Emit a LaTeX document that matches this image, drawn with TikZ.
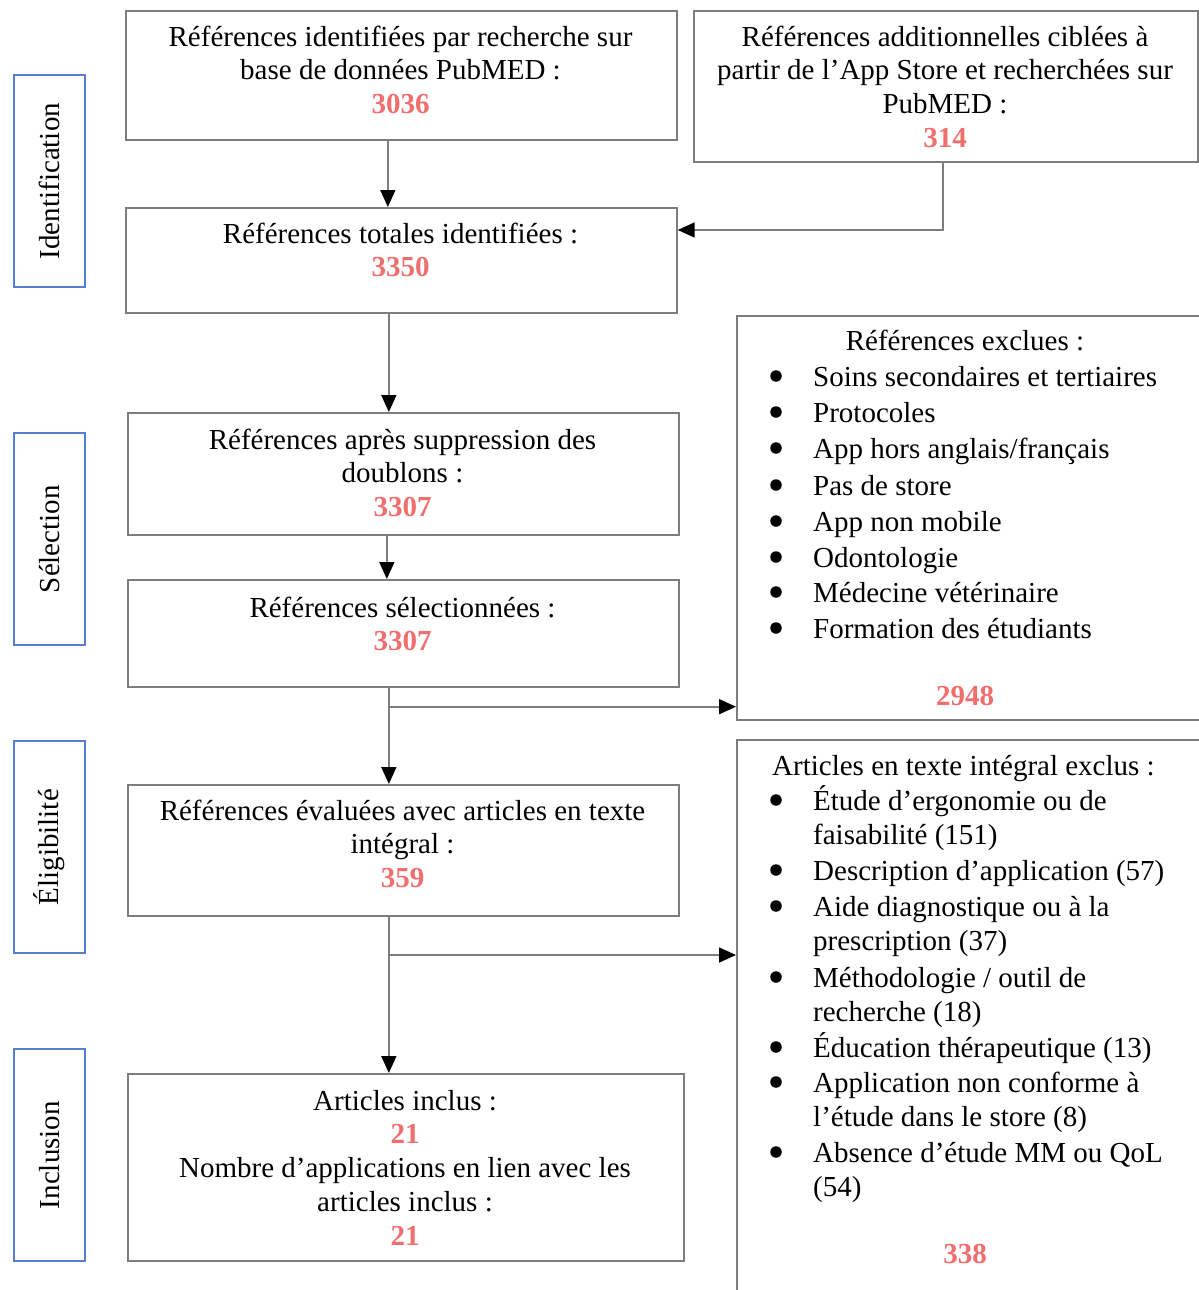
\documentclass[tikz,border=0pt]{standalone}
\usepackage{fontspec}
\setmainfont{Liberation Serif}
\usetikzlibrary{arrows.meta}
\definecolor{boxgray}{RGB}{125,125,125}
\definecolor{sideblue}{RGB}{85,125,210}
\definecolor{numred}{RGB}{240,110,110}
\newcommand\fs{\fontsize{29}{33.7}\selectfont}
\newcommand\st{\rule{0pt}{27pt}}
\newcommand\nb[1]{\textcolor{numred}{\bfseries #1}}
\begin{document}
\begin{tikzpicture}[x=1pt,y=-1pt,
  gbox/.style={draw=boxgray, line width=1.7pt, rectangle, inner sep=0pt, anchor=north west},
  sbox/.style={draw=sideblue, line width=2.2pt, rectangle, inner sep=0pt, anchor=north west, minimum width=71pt, minimum height=212pt},
  side/.style={font=\fs, rotate=90, inner sep=0pt},
  ctext/.style={font=\fs, align=center, anchor=north, inner sep=0pt},
  ltext/.style={font=\fs, anchor=base west, inner sep=0pt},
  btext/.style={font=\fs, anchor=base, inner sep=0pt},
  bul/.style={circle, fill=black, inner sep=0pt, minimum size=11.5pt},
  arr/.style={draw=boxgray, line width=1.7pt, -{Triangle[length=17pt,width=15pt,color=black]}},
  ln/.style={draw=boxgray, line width=1.7pt}
]
\useasboundingbox[fill=white] (0,0) rectangle (1199,1290);

% side labels
\node[sbox] (S1) at (13,74) {};
\node[side] (S1t) at (S1.center) {Identification};
\node[sbox] (S2) at (13,432) {};
\node[side] (S2t) at (S2.center) {Sélection};
\node[sbox] (S3) at (13,740) {};
\node[side] (S3t) at (S3.center) {Éligibilité};
\node[sbox] (S4) at (13,1048) {};
\node[side] (S4t) at (S4.center) {Inclusion};

% boxes
\node[gbox, minimum width=551pt, minimum height=129pt] (A) at (125,10) {};
\node[ctext] (At) at (400.5,19) {\st Références identifiées par recherche sur\\base de données PubMED :\\\nb{3036}};

\node[gbox, minimum width=504pt, minimum height=151pt] (B) at (693,10) {};
\node[ctext] (Bt) at (945,19) {\st Références additionnelles ciblées à\\partir de l’App Store et recherchées sur\\PubMED :\\\nb{314}};

\node[gbox, minimum width=551pt, minimum height=105pt] (C) at (125,207) {};
\node[ctext] (Ct) at (400.5,216) {\st Références totales identifiées :\\\nb{3350}};

\node[gbox, minimum width=551pt, minimum height=122pt] (D) at (127,412) {};
\node[ctext] (Dt) at (402.5,422) {\st Références après suppression des\\doublons :\\\nb{3307}};

\node[gbox, minimum width=551pt, minimum height=107pt] (E) at (127,579) {};
\node[ctext] (Et) at (402.5,590) {\st Références sélectionnées :\\\nb{3307}};

\node[gbox, minimum width=551pt, minimum height=131pt] (G) at (127,784) {};
\node[ctext] (Gt) at (402.5,793) {\st Références évaluées avec articles en texte\\intégral :\\\nb{359}};

\node[gbox, minimum width=556pt, minimum height=187pt] (I) at (127,1073) {};
\node[ctext] (It) at (405,1083) {\st Articles inclus :\\\nb{21}\\Nombre d’applications en lien avec les\\articles inclus :\\\nb{21}};

% exclusion box 1
\node[gbox, minimum width=466pt, minimum height=404pt] (F) at (736,315) {};
\node[btext] (Ft) at (965,350) {Références exclues :};
\foreach \y/\t [count=\i] in {386/{Soins secondaires et tertiaires}, 422/{Protocoles}, 458/{App hors anglais/français}, 495/{Pas de store}, 531/{App non mobile}, 567/{Odontologie}, 602/{Médecine vétérinaire}, 638/{Formation des étudiants}}{
  \node[bul] (Fb\i) at (776,\y-10) {};
  \node[ltext] (Fl\i) at (813,\y) {\t};
}
\node[btext] (Fn) at (965,705) {\nb{2948}};

% exclusion box 2
\node[gbox, minimum width=466pt, minimum height=570pt] (H) at (736,739) {};
\node[ltext] (Ht) at (772,775) {Articles en texte intégral exclus :};
\foreach \y [count=\i] in {810,880,916,987,1057,1092,1162}{
  \node[bul] (Hb\i) at (776,\y-10) {};
}
\node[ltext] (H1) at (813,810) {Étude d’ergonomie ou de};
\node[ltext] (H2) at (813,844) {faisabilité (151)};
\node[ltext] (H3) at (813,880) {Description d’application (57)};
\node[ltext] (H4) at (813,916) {Aide diagnostique ou à la};
\node[ltext] (H5) at (813,950) {prescription (37)};
\node[ltext] (H6) at (813,987) {Méthodologie / outil de};
\node[ltext] (H7) at (813,1021) {recherche (18)};
\node[ltext] (H8) at (813,1057) {Éducation thérapeutique (13)};
\node[ltext] (H9) at (813,1092) {Application non conforme à};
\node[ltext] (H10) at (813,1126) {l’étude dans le store (8)};
\node[ltext] (H11) at (813,1162) {Absence d’étude MM ou QoL};
\node[ltext] (H12) at (813,1196) {(54)};
\node[btext] (Hn) at (965,1263) {\nb{338}};

% connectors
\draw[arr] ([xshift=-13.5pt]A.south) -- ([xshift=-13.5pt]A.south |- C.north);
\draw[arr] ([xshift=-3pt]B.south) |- ([yshift=-23pt]C.north east);
\draw[arr] ([xshift=-12.5pt]C.south) -- ([xshift=-12.5pt]C.south |- D.north);
\draw[arr] ([xshift=-16.5pt]D.south) -- ([xshift=-16.5pt]D.south |- E.north);
\coordinate (E1) at ([xshift=-14.5pt]E.south);
\coordinate (J1) at ([yshift=14pt]F.south west -| E1);
\draw[arr] (E1) -- (E1 |- G.north);
\draw[arr] (J1) -- (J1 -| F.west);
\coordinate (G1) at ([xshift=-14.5pt]G.south);
\coordinate (J2) at ([yshift=-216pt]H.north west -| G1);
\draw[arr] (G1) -- (G1 |- I.north);
\draw[arr] (J2) -- (J2 -| H.west);
\end{tikzpicture}
\end{document}
